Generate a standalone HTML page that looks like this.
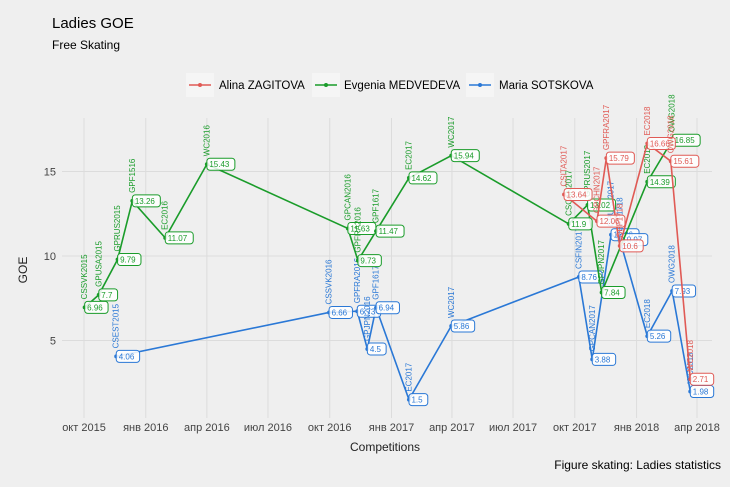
<!DOCTYPE html>
<html><head><meta charset="utf-8">
<style>
body{margin:0;background:#efefef;}
svg{display:block;font-family:"Liberation Sans",sans-serif;}
</style></head>
<body>
<svg id="chart" width="730" height="487" viewBox="0 0 730 487">
<rect width="730" height="487" fill="#efefef"/>
<text x="52" y="28" font-size="15" fill="#000">Ladies GOE</text>
<text x="52" y="49" font-size="12" fill="#000">Free Skating</text>
<g id="grid"></g>
<g id="axes"></g>
<g id="series"></g>
<text x="385" y="451" font-size="12" text-anchor="middle" fill="#222">Competitions</text>
<text transform="translate(27,270) rotate(-90)" font-size="12" text-anchor="middle" fill="#222">GOE</text>
<text x="721" y="469" font-size="12" text-anchor="end" fill="#000">Figure skating: Ladies statistics</text>
<g id="legend">
  <g>
    <rect x="186" y="73" width="28" height="24" fill="#f5f5f5"/>
    <line x1="189" y1="85" x2="211" y2="85" stroke="#e05a55" stroke-width="1.5"/><circle cx="200" cy="85" r="2" fill="#e05a55"/>
    <text x="219" y="89" font-size="11.5" fill="#000">Alina ZAGITOVA</text>
  </g>
  <g>
    <rect x="312" y="73" width="28" height="24" fill="#f5f5f5"/>
    <line x1="315" y1="85" x2="337" y2="85" stroke="#1a9c2a" stroke-width="1.5"/><circle cx="326" cy="85" r="2" fill="#1a9c2a"/>
    <text x="344" y="89" font-size="11.5" fill="#000">Evgenia MEDVEDEVA</text>
  </g>
  <g>
    <rect x="466" y="73" width="28" height="24" fill="#f5f5f5"/>
    <line x1="469" y1="85" x2="491" y2="85" stroke="#2a78d6" stroke-width="1.5"/><circle cx="480" cy="85" r="2" fill="#2a78d6"/>
    <text x="499" y="89" font-size="11.5" fill="#000">Maria SOTSKOVA</text>
  </g>
</g>
</svg>
<script>
const yTicks=[5,10,15];
const xTickDates=["2015-10-01","2016-01-01","2016-04-01","2016-07-01","2016-10-01","2017-01-01","2017-04-01","2017-07-01","2017-10-01","2018-01-01","2018-04-01"];
const xTickLabels=["окт 2015","янв 2016","апр 2016","июл 2016","окт 2016","янв 2017","апр 2017","июл 2017","окт 2017","янв 2018","апр 2018"];
const zagDates=["2017-09-15","2017-11-03","2017-11-17","2017-12-07","2018-01-17","2018-02-21","2018-03-22"];
const zagNames=["CSITA2017","GPCHN2017","GPFRA2017","GPF1718","EC2018","OWG2018","WC2018"];
const zagValues=[13.64,12.06,15.79,10.6,16.66,15.61,2.71];
const medDates=["2015-10-02","2015-10-23","2015-11-20","2015-12-12","2016-01-30","2016-04-01","2016-10-28","2016-11-12","2016-12-09","2017-01-27","2017-03-31","2017-09-22","2017-10-20","2017-11-10","2018-01-17","2018-02-23"];
const medNames=["CSSVK2015","GPUSA2015","GPRUS2015","GPF1516","EC2016","WC2016","GPCAN2016","GPFRA2016","GPF1617","EC2017","WC2017","CSCAN2017","GPRUS2017","GPJPN2017","EC2018","OWG2018"];
const medValues=[6.96,7.7,9.79,13.26,11.07,15.43,11.63,9.73,11.47,14.62,15.94,11.9,13.02,7.84,14.39,16.85];
const sotDates=["2015-11-18","2016-09-30","2016-11-11","2016-11-26","2016-12-09","2017-01-27","2017-03-31","2017-10-07","2017-10-27","2017-11-24","2017-12-07","2018-01-17","2018-02-23","2018-03-22"];
const sotNames=["CSEST2015","CSSVK2016","GPFRA2016","GPJPN2016","GPF1617","EC2017","WC2017","CSFIN2017","GPCAN2017","GPUSA2017","GPF1718","EC2018","OWG2018","WC2018"];
const sotValues=[4.06,6.66,6.73,4.5,6.94,1.5,5.86,8.76,3.88,11.26,10.97,5.26,7.93,1.98];

const NS="http://www.w3.org/2000/svg";
const L=62,R=712,T=118,B=418;
const t0=Date.parse("2015-10-01"),t1=Date.parse("2018-04-01");
function xScale(d){return 84+(Date.parse(d)-t0)/(t1-t0)*613;}
function yScale(v){return 256-(v-10)*16.9;}
function mk(tag,attrs,parent){const e=document.createElementNS(NS,tag);for(const k in attrs)e.setAttribute(k,attrs[k]);parent.appendChild(e);return e;}
const grid=document.getElementById('grid'),axes=document.getElementById('axes'),ser=document.getElementById('series');
yTicks.forEach(v=>{
  const y=yScale(v);
  const ln=mk('line',{x1:L,x2:R,y1:y,y2:y,stroke:'#dcdcdc','stroke-width':1},grid);
  
  
  const t=mk('text',{x:L-6,y:y+4,'font-size':11,'text-anchor':'end',fill:'#444'},axes);
  t.textContent=v;
  
  
});
xTickDates.forEach((d,i)=>{
  const x=xScale(d);
  const ln=mk('line',{x1:x,x2:x,y1:T,y2:B,stroke:'#dcdcdc','stroke-width':1},grid);
  
  
  const t=mk('text',{x:x,y:431,'font-size':11,'text-anchor':'middle',fill:'#444'},axes);
  t.textContent=xTickLabels[i];
  
  
});
function drawSeries(dates,names,vals,color,key){
  const g=mk('g',{},ser);
  
  
  const pts=dates.map((d,i)=>xScale(d)+','+yScale(vals[i])).join(' ');
  const pl=mk('polyline',{points:pts,fill:'none',stroke:color,'stroke-width':1.6},g);
  
  
  dates.forEach((d,i)=>{
    const x=xScale(d),y=yScale(vals[i]);
    const c=mk('circle',{cx:x,cy:y,r:2,fill:color},g);
    
    
    const nm=mk('text',{transform:'translate('+(x+2.5)+','+(y-8)+') rotate(-90)','font-size':8,fill:color},g);
    nm.textContent=names[i];
    
    
    const s=String(vals[i]);const w=s.length*4.6+5;
    const r=mk('rect',{x:x,y:y-6,width:w,height:12,rx:3,fill:'#fff','fill-opacity':0.85,stroke:color,'stroke-width':1},g);
    
    
    const vt=mk('text',{x:x+2.5,y:y+3,'font-size':8,fill:color},g);
    vt.textContent=s;
    
    
  });
}
drawSeries(sotDates,sotNames,sotValues,'#2a78d6','sotskova');
drawSeries(medDates,medNames,medValues,'#1a9c2a','medvedeva');
drawSeries(zagDates,zagNames,zagValues,'#e05a55','zagitova');
</script>
</body></html>
